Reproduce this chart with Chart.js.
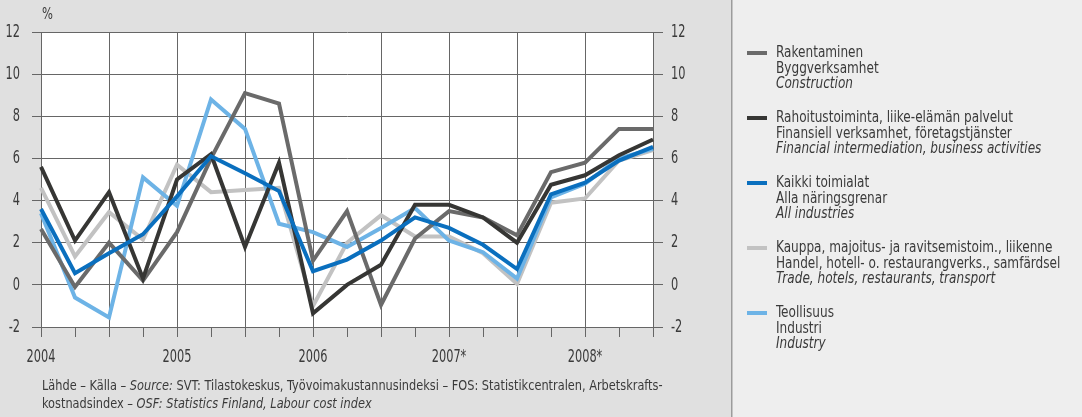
<!DOCTYPE html>
<html lang="fi">
<head>
<meta charset="UTF-8">
<title>Työvoimakustannusindeksi toimialoittain</title>
<script src="https://cdn.jsdelivr.net/npm/chart.js"></script>
<style>
  html, body { margin: 0; padding: 0; background: #e2e2e2; }
  #wrap { width: 1082px; height: 417px; }
</style>
</head>
<body>
<div id="wrap"><canvas id="chart" width="1082" height="417"></canvas></div>
<script>
// neljännekset 2004Q1 - 2008Q3
const quarters = ['2004Q1','2004Q2','2004Q3','2004Q4','2005Q1','2005Q2','2005Q3','2005Q4',
  '2006Q1','2006Q2','2006Q3','2006Q4','2007Q1','2007Q2','2007Q3','2007Q4',
  '2008Q1','2008Q2','2008Q3'];
const yearTicks = ['2004','','','','2005','','','','2006','','','','2007*','','','','2008*','',''];
const yTicks = [-2, 0, 2, 4, 6, 8, 10, 12];

// vuosimuutos, %
const rakentaminen = [2.65, -0.1, 2.0, 0.2, 2.5, 6.0, 9.1, 8.6, 1.15, 3.5, -0.95, 2.2, 3.5, 3.2, 2.35, 5.35, 5.8, 7.4, 7.4];
const rahoitus     = [5.6, 2.1, 4.4, 0.3, 5.0, 6.2, 1.8, 5.8, -1.35, 0.0, 0.95, 3.8, 3.8, 3.2, 2.0, 4.75, 5.2, 6.15, 6.9];
const kaikki       = [3.6, 0.55, 1.5, 2.4, 4.2, 6.1, 5.3, 4.45, 0.65, 1.2, 2.1, 3.2, 2.7, 1.9, 0.75, 4.3, 4.85, 5.9, 6.55];
const kauppa       = [4.6, 1.35, 3.45, 2.15, 5.7, 4.4, 4.5, 4.6, -1.0, 2.0, 3.3, 2.3, 2.3, 1.5, 0.05, 3.9, 4.1, 5.9, 6.4];
const teollisuus   = [3.4, -0.6, -1.55, 5.1, 3.75, 8.8, 7.4, 2.9, 2.5, 1.8, 2.7, 3.65, 2.1, 1.55, 0.3, 4.15, 4.8, 6.0, 6.45];

const legendRakentaminen = ['Rakentaminen', 'Byggverksamhet', 'Construction'];
const legendRahoitus = ['Rahoitustoiminta, liike-elämän palvelut', 'Finansiell verksamhet, företagstjänster', 'Financial intermediation, business activities'];
const legendKaikki = ['Kaikki toimialat', 'Alla näringsgrenar', 'All industries'];
const legendKauppa = ['Kauppa, majoitus- ja ravitsemistoim., liikenne', 'Handel, hotell- o. restaurangverks., samfärdsel', 'Trade, hotels, restaurants, transport'];
const legendTeollisuus = ['Teollisuus', 'Industri', 'Industry'];

const FONT = '"Liberation Sans Narrow", "DejaVu Sans Condensed", "DejaVu Sans", sans-serif';
const textColor = '#3a3a3a';
const gridColor = '#666666';

function line(lines, data, color, order) {
  return {
    label: lines[0], legendLines: lines, data: data,
    borderColor: color, backgroundColor: color,
    borderWidth: 4, pointRadius: 0, tension: 0,
    borderJoinStyle: 'miter', borderCapStyle: 'butt',
    yAxisID: 'y', order: order
  };
}

// kapea teksti: vaakasuunnassa puristettu
function narrowText(c, t, x, y, sx, align) {
  c.save();
  c.translate(x, y);
  c.scale(sx, 1);
  c.textAlign = align;
  c.fillText(t, 0, 0);
  c.restore();
}

// tausta, akselien tekstit, selitteet ja lähde
const decor = {
  id: 'decor',
  beforeDraw(chart) {
    const c = chart.ctx, a = chart.chartArea;
    c.save();
    c.fillStyle = '#e0e0e0';
    c.fillRect(0, 0, 731, 417);
    c.fillStyle = '#eeeeee';
    c.fillRect(732, 0, 350, 417);
    c.fillStyle = '#9c9c9c';
    c.fillRect(731, 0, 1.5, 417);
    c.fillStyle = '#ffffff';
    c.fillRect(a.left, a.top, a.right - a.left, a.bottom - a.top);
    c.restore();
  },
  afterDraw(chart) {
    const c = chart.ctx;
    c.save();
    c.fillStyle = textColor;
    c.textBaseline = 'middle';

    // akselien numerot
    c.font = '18px ' + FONT;
    const sy = chart.scales.y, sx = chart.scales.x;
    sy.ticks.forEach(t => {
      const py = sy.getPixelForValue(t.value);
      narrowText(c, String(t.value), 20, py, 0.7, 'right');
      narrowText(c, String(t.value), 671, py, 0.7, 'left');
    });
    sx.ticks.forEach((t, i) => {
      if (yearTicks[i]) narrowText(c, yearTicks[i], sx.getPixelForTick(i), 357, 0.7, 'center');
    });

    c.font = '16px ' + FONT;
    narrowText(c, '%', 42, 15, 0.8, 'left');

    // selite
    let y = 53;
    chart.data.datasets.forEach(ds => {
      c.fillStyle = ds.borderColor;
      c.fillRect(747, y - 2, 20, 4);
      ds.legendLines.forEach((t, i) => {
        c.fillStyle = textColor;
        c.font = (i === 2 ? 'italic ' : '') + '16px ' + FONT;
        narrowText(c, t, 776, y + i * 15.5, 0.84, 'left');
      });
      y += 65;
    });

    // lähde
    const rows = [
      [['Lähde – Källa – ', ''], ['Source:', 'italic '], [' SVT: Tilastokeskus, Työvoimakustannusindeksi – FOS: Statistikcentralen, Arbetskrafts-', '']],
      [['kostnadsindex – ', ''], ['OSF: Statistics Finland, Labour cost index', 'italic ']]
    ];
    rows.forEach((row, r) => {
      c.save();
      c.translate(42, 386 + r * 18);
      c.scale(0.87, 1);
      let x = 0;
      row.forEach(([t, st]) => {
        c.font = st + '14.5px ' + FONT;
        c.fillText(t, x, 0);
        x += c.measureText(t).width;
      });
      c.restore();
    });
    c.restore();
  }
};

new Chart(document.getElementById('chart'), {
  type: 'line',
  data: {
    labels: quarters,
    datasets: [
      line(legendRakentaminen, rakentaminen, '#6a6a6a', 2),
      line(legendRahoitus, rahoitus, '#363634', 1),
      line(legendKaikki, kaikki, '#0a6fbe', 0),
      line(legendKauppa, kauppa, '#c2c2c2', 4),
      line(legendTeollisuus, teollisuus, '#6db3e6', 3)
    ]
  },
  options: {
    responsive: false,
    animation: false,
    devicePixelRatio: 1,
    layout: { padding: { left: 0, top: 32, right: 389, bottom: 0 } },
    plugins: { legend: { display: false }, tooltip: { enabled: false } },
    scales: {
      x: {
        type: 'category',
        offset: false,
        grid: {
          color: ctx => ctx.index % 2 === 0 ? gridColor : 'rgba(0,0,0,0)',
          tickColor: gridColor, tickLength: 10, lineWidth: 1
        },
        border: { color: gridColor, width: 1 },
        ticks: { autoSkip: false, maxRotation: 0, display: false },
        afterFit: s => { s.height = 90; }
      },
      y: {
        position: 'left', min: -2, max: 12,
        afterBuildTicks: s => { s.ticks = yTicks.map(v => ({ value: v })); },
        grid: { color: gridColor, tickColor: gridColor, tickLength: 9, lineWidth: 1 },
        border: { color: gridColor, width: 1 },
        ticks: { display: false },
        afterFit: s => { s.width = 41; }
      },
      y2: {
        position: 'right', min: -2, max: 12,
        afterBuildTicks: s => { s.ticks = yTicks.map(v => ({ value: v })); },
        grid: { drawOnChartArea: false, tickColor: gridColor, tickLength: 10 },
        border: { color: gridColor, width: 1 },
        ticks: { display: false },
        afterFit: s => { s.width = 40; }
      }
    }
  },
  plugins: [decor]
});
</script>
</body>
</html>
